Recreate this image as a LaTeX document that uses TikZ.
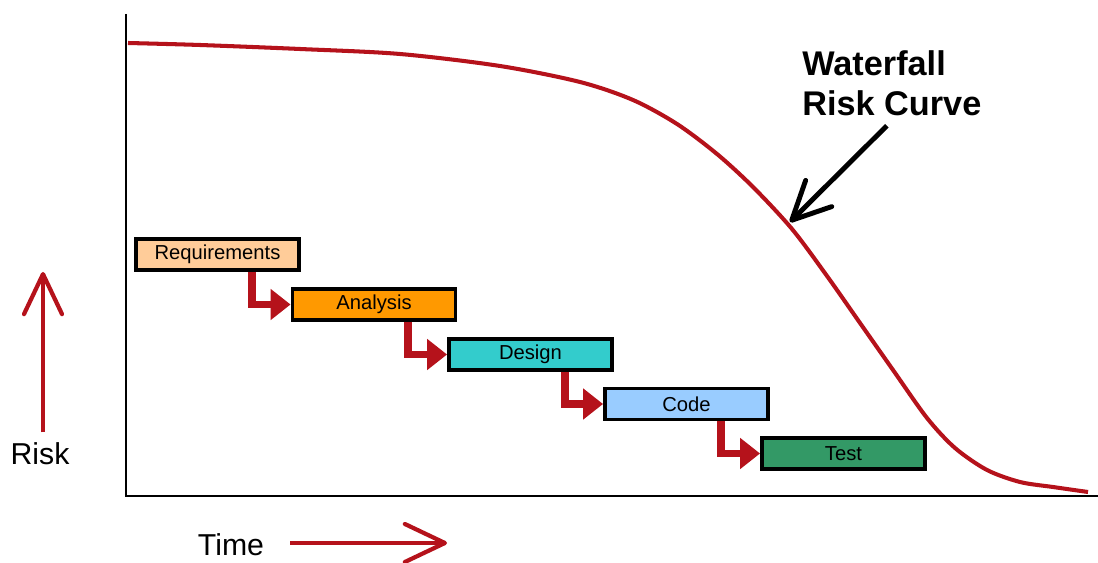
\documentclass[tikz,border=0pt]{standalone}
\usepackage{fontspec}
\setmainfont{Liberation Sans}
\usetikzlibrary{arrows.meta}

\definecolor{riskred}{RGB}{181,18,27}
\definecolor{reqfill}{RGB}{255,204,153}
\definecolor{anafill}{RGB}{255,153,0}
\definecolor{desfill}{RGB}{51,204,204}
\definecolor{codefill}{RGB}{153,204,255}
\definecolor{testfill}{RGB}{51,153,102}

\begin{document}
\begin{tikzpicture}[x=0.02cm, y=-0.02cm,
  phase/.style={draw=black, line width=2.2pt, minimum width=3.26cm,
    minimum height=0.62cm, inner sep=0pt, font=\fontsize{11.5}{13}\selectfont},
  flow/.style={riskred, line width=4.5pt, -{Triangle[length=0.4cm, width=0.6cm]}},
  bigarrow/.style={riskred, line width=2.4pt,
    -{Straight Barb[length=0.8cm, width=0.76cm, round]}},
  pointer/.style={black, line width=2.8pt,
    -{Straight Barb[length=0.76cm, width=0.74cm, round]}},
  axislabel/.style={font=\fontsize{17.2}{20}\selectfont}]

  % --- 枠 (1098 x 563 px) ---
  \useasboundingbox (0,0) rectangle (1098,563);

  % 1. 座標軸
  \draw[black, line width=0.9pt] (126,14) -- (126,496) -- (1098,496);

  % 2. リスク曲線
  \draw[riskred, line width=2.3pt, smooth, tension=0.5] plot coordinates {
    (128,43) (200,45) (300,49) (400,54) (500,66) (580,82) (633,100)
    (677,124) (717,154) (753,187) (792,229) (827,276) (860,323)
    (893,370) (927,418) (955,448) (987,470) (1020,482) (1053,487)
    (1088,492)};

  % 3. 工程ボックス
  \node[phase, fill=reqfill]  (req)  at (217.5,254.5) {Requirements};
  \node[phase, fill=anafill]  (ana)  at (374,304.5)   {Analysis};
  \node[phase, fill=desfill]  (des)  at (530.5,354.5) {Design};
  \node[phase, fill=codefill] (code) at (686.5,404)   {Code};
  \node[phase, fill=testfill] (test) at (843.5,453.5) {Test};

  % 4. 工程間の矢印
  \draw[flow] ([xshift=-0.98cm]req.south east)  |- (ana.west);
  \draw[flow] ([xshift=-0.98cm]ana.south east)  |- (des.west);
  \draw[flow] ([xshift=-0.98cm]des.south east)  |- (code.west);
  \draw[flow] ([xshift=-0.98cm]code.south east) |- (test.west);

  % 5. 軸ラベルと矢印
  \node[axislabel, anchor=base] (risk) at (40,464) {Risk};
  \coordinate (risktop) at (43,272);
  \draw[bigarrow] ([yshift=2pt]risk.north -| risktop) -- (risktop);

  \node[axislabel, anchor=base] (time) at (231,555) {Time};
  \coordinate (timetail) at (290,543);
  \coordinate (timehead) at (447,543);
  \draw[bigarrow] (timetail) -- (timehead);

  % 6. 注釈
  \node[anchor=north west, inner sep=0pt, align=left,
    font=\fontsize{19.5}{22.7}\selectfont\bfseries] (title) at (802,50)
    {Waterfall\\Risk Curve};
  \coordinate (hit) at (790,222);
  \draw[pointer] ([xshift=-0.1cm, yshift=-0.2cm]title.south) -- (hit);

\end{tikzpicture}
\end{document}
